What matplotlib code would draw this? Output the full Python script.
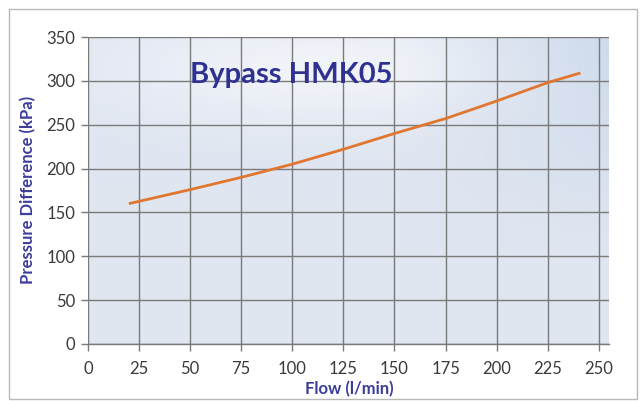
import numpy as np
import matplotlib
matplotlib.use("Agg")
import matplotlib.pyplot as plt
from matplotlib.patches import Rectangle

# curve
flow = [20, 50, 75, 100, 125, 150, 175, 200, 225, 241]
pressure = [160, 176, 190, 205, 222, 240, 257, 277, 298, 309]
xticks = [0, 25, 50, 75, 100, 125, 150, 175, 200, 225, 250]
yticks = [0, 50, 100, 150, 200, 250, 300, 350]

plt.rcParams['font.family'] = ['Lato', 'DejaVu Sans']
navy = '#2e3190'

fig = plt.figure(figsize=(6.4, 4.01), dpi=100)
fig.patch.set_facecolor('white')
# outer border of the chart
fig.add_artist(Rectangle((9 / 640, 2 / 401), 628 / 640, 390 / 401, transform=fig.transFigure,
                         fill=False, edgecolor='#b8b8b8', linewidth=1))

ax = fig.add_axes([88 / 640, 57 / 401, 521 / 640, 307 / 401])
ax.set_xlim(0, 255)
ax.set_ylim(0, 350)

# background gradient: pale blue-grey, lighter band near the top, darker top right
h, w = 200, 300
yy, xx = np.mgrid[0:1:h * 1j, 0:1:w * 1j]
base = np.array([0.878, 0.902, 0.945])
light = np.exp(-((yy - 0.9) ** 2) / 0.03) * 0.55 * np.exp(-((xx - 0.45) ** 2) / 0.15)
dark = np.clip((xx - 0.6) * 2.0, 0, 1) * np.clip((yy - 0.3) * 1.6, 0, 1)
img = np.zeros((h, w, 3))
for c in range(3):
    img[:, :, c] = base[c] + (1 - base[c]) * light - dark * [0.09, 0.06, 0.03][c]
img = np.clip(img, 0, 1)
ax.imshow(img, extent=[0, 255, 0, 350], origin='lower', aspect='auto', zorder=0)

ax.set_xticks(xticks)
ax.set_yticks(yticks)
ax.grid(True, color='#7a7a7a', linewidth=1.0, zorder=1)
ax.set_axisbelow(False)
for s in ['top', 'right', 'left']:
    ax.spines[s].set_visible(False)
ax.spines['bottom'].set_color('#7a7a7a')
ax.spines['bottom'].set_linewidth(1.0)
ax.tick_params(axis='both', colors='#7a7a7a', length=5, width=1,
               labelcolor='#3a3a3a', labelsize=12)
ax.tick_params(axis='x', pad=7)
ax.tick_params(axis='y', pad=4)

ax.plot(flow, pressure, color='#e0762f', linewidth=2.0, zorder=3, solid_capstyle='butt')

ax.text(0.196, 0.875, 'Bypass HMK05', transform=ax.transAxes, fontsize=21,
        fontweight='bold', color=navy, ha='left', va='center', zorder=4)

fig.text(349 / 640, 1 - 389 / 401, 'Flow (l/min)', ha='center', va='center',
         fontsize=12, fontweight='bold', color='#3c3c9c')
fig.text(28 / 640, 1 - 190 / 401, 'Pressure Difference (kPa)', ha='center', va='center',
         rotation=90, fontsize=12, fontweight='bold', color='#3c3c9c')

fig.savefig('out.png', dpi=100, facecolor='white')
